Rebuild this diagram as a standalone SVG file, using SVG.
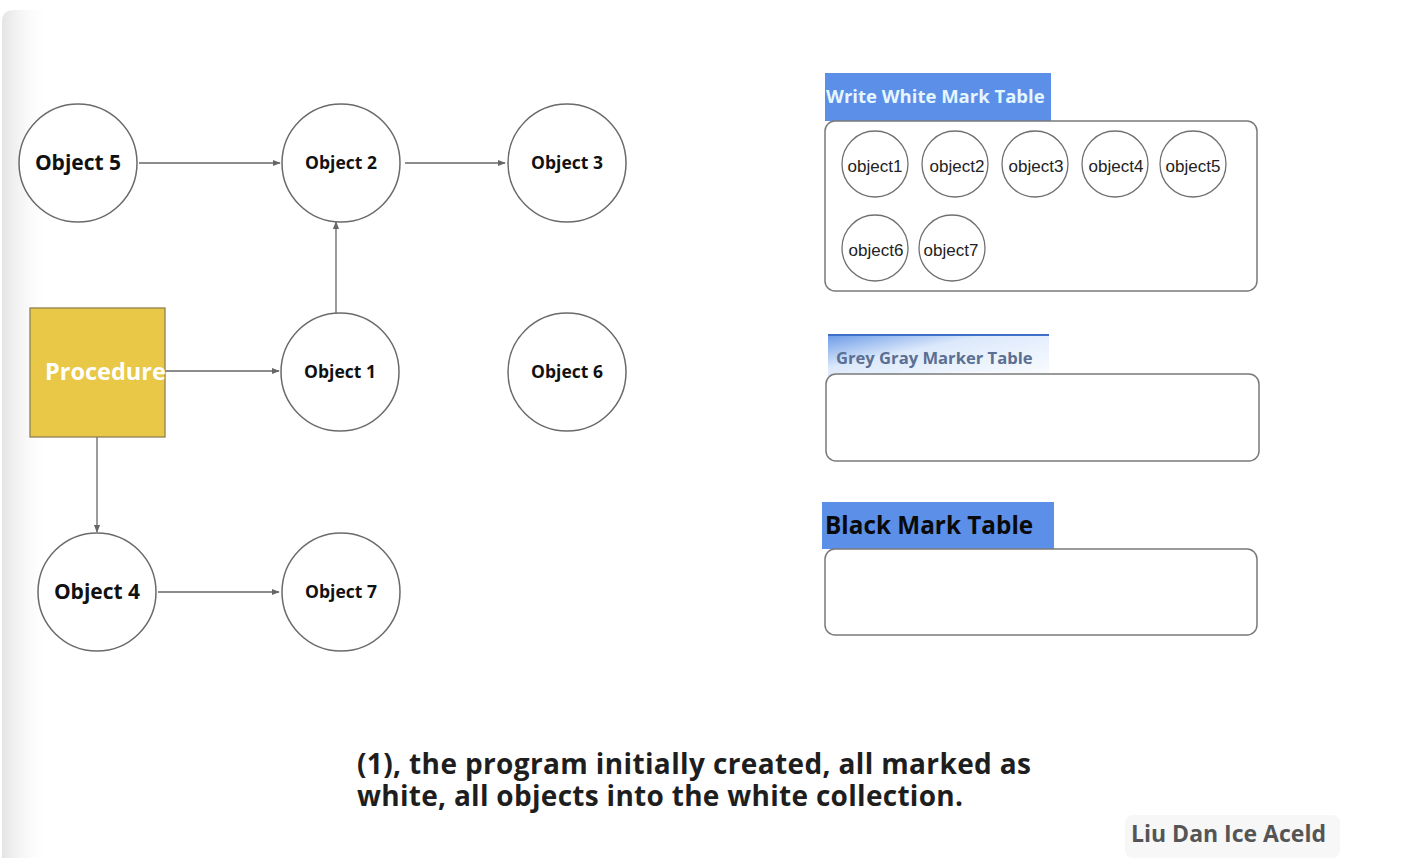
<svg xmlns="http://www.w3.org/2000/svg" width="1404" height="866" viewBox="0 0 1404 866">
<defs>
<linearGradient id="edge" x1="0" y1="0" x2="1" y2="0">
<stop offset="0" stop-color="#e4e4e4"/>
<stop offset="1" stop-color="#ffffff" stop-opacity="0"/>
</linearGradient>
<linearGradient id="greyhdr" x1="0" y1="0" x2="1" y2="1">
<stop offset="0" stop-color="#6f9de8"/>
<stop offset="0.35" stop-color="#dce9fb"/>
<stop offset="1" stop-color="#ffffff"/>
</linearGradient>
<marker id="arr" viewBox="0 0 10 10" refX="9" refY="5" markerWidth="6" markerHeight="6" orient="auto">
<path d="M0,1 L10,5 L0,9 z" fill="#666"/>
</marker>
</defs>
<style>
.node{fill:#fff;stroke:#6a6a6a;stroke-width:1.5}
.lbl{font-family:"Open Sans","Noto Sans",sans-serif;font-weight:bold;fill:#111;text-anchor:middle}
.edge{stroke:#666;stroke-width:1.3;fill:none;marker-end:url(#arr)}
.box{fill:#fff;stroke:#7a7a7a;stroke-width:1.5}
.small{fill:#fff;stroke:#707070;stroke-width:1.3}
.st{font-family:"Liberation Sans",Arial,sans-serif;font-size:17px;fill:#222;text-anchor:middle}
.hdr{fill:#5b8fe8}
.ob{font-family:"Open Sans","Noto Sans",sans-serif;font-weight:bold}
</style>
<rect x="0" y="0" width="1404" height="866" fill="#fff"/>
<path d="M2,858 L2,22 Q2,10 14,10 L50,10 L50,858 Z" fill="url(#edge)"/>

<g id="connectors">
<line class="edge" x1="139" y1="163" x2="280" y2="163"/>
<line class="edge" x1="405" y1="163" x2="505" y2="163"/>
<line class="edge" x1="336" y1="313" x2="336" y2="222"/>
<line class="edge" x1="165" y1="371" x2="279" y2="371"/>
<line class="edge" x1="97" y1="437" x2="97" y2="532"/>
<line class="edge" x1="158" y1="592" x2="279" y2="592"/>
</g>

<g id="object5"><circle class="node" cx="78" cy="163" r="59"/><text class="lbl" x="78" y="170" font-size="21">Object 5</text></g>
<g id="object2"><circle class="node" cx="341" cy="163" r="59"/><text class="lbl" x="341" y="169" font-size="17.5">Object 2</text></g>
<g id="object3"><circle class="node" cx="567" cy="163" r="59"/><text class="lbl" x="567" y="169" font-size="17.5">Object 3</text></g>
<g id="object1"><circle class="node" cx="340" cy="372" r="59"/><text class="lbl" x="340" y="378" font-size="17.5">Object 1</text></g>
<g id="object6"><circle class="node" cx="567" cy="372" r="59"/><text class="lbl" x="567" y="378" font-size="17.5">Object 6</text></g>
<g id="object4"><circle class="node" cx="97" cy="592" r="59"/><text class="lbl" x="97" y="599" font-size="21">Object 4</text></g>
<g id="object7"><circle class="node" cx="341" cy="592" r="59"/><text class="lbl" x="341" y="598" font-size="17.5">Object 7</text></g>

<g id="procedure">
<rect x="30" y="308" width="135" height="129" fill="#e8c846" stroke="#8f8050" stroke-width="1.3"/>
<text class="ob" x="45" y="380" font-size="23.5" fill="#fff">Procedure</text>
</g>

<g id="white-table">
<rect class="hdr" x="825" y="73" width="226" height="48"/>
<text class="ob" x="826" y="103" font-size="18.5" fill="#e6f6ff">Write White Mark Table</text>
<rect class="box" x="825" y="121" width="432" height="170" rx="10"/>
<g id="w-object1"><circle class="small" cx="875" cy="164" r="33"/><text class="st" x="875" y="172">object1</text></g>
<g id="w-object2"><circle class="small" cx="955" cy="164" r="33"/><text class="st" x="957" y="172">object2</text></g>
<g id="w-object3"><circle class="small" cx="1035" cy="164" r="33"/><text class="st" x="1036" y="172">object3</text></g>
<g id="w-object4"><circle class="small" cx="1115" cy="164" r="33"/><text class="st" x="1116" y="172">object4</text></g>
<g id="w-object5"><circle class="small" cx="1193" cy="164" r="33"/><text class="st" x="1193" y="172">object5</text></g>
<g id="w-object6"><circle class="small" cx="875" cy="248" r="33"/><text class="st" x="876" y="256">object6</text></g>
<g id="w-object7"><circle class="small" cx="952" cy="248" r="33"/><text class="st" x="951" y="256">object7</text></g>
</g>

<g id="grey-table">
<path d="M828,336 L1049,336 L1049,374 Q940,368 828,382 Z" fill="url(#greyhdr)"/>
<line x1="828" y1="335" x2="1049" y2="335" stroke="#3d6fc8" stroke-width="2"/>
<text class="ob" x="836" y="364" font-size="16.6" fill="#5a6f92">Grey Gray Marker Table</text>
<rect class="box" x="826" y="374" width="433" height="87" rx="10"/>
</g>

<g id="black-table">
<rect class="hdr" x="822" y="502" width="232" height="47"/>
<text class="ob" x="825" y="534" font-size="24.3" fill="#0a0a0a">Black Mark Table</text>
<rect class="box" x="825" y="549" width="432" height="86" rx="10"/>
</g>

<g id="caption">
<text class="ob" x="357" y="774" font-size="28" fill="#1e1e1e" textLength="674" lengthAdjust="spacing">(1), the program initially created, all marked as</text>
<text class="ob" x="357" y="806" font-size="28" fill="#1e1e1e" textLength="606" lengthAdjust="spacing">white, all objects into the white collection.</text>
</g>

<g id="watermark">
<rect x="1125" y="815" width="215" height="43" rx="8" fill="#f7f7f7"/>
<text class="ob" x="1131" y="842" font-size="23" fill="#555">Liu Dan Ice Aceld</text>
</g>
</svg>
